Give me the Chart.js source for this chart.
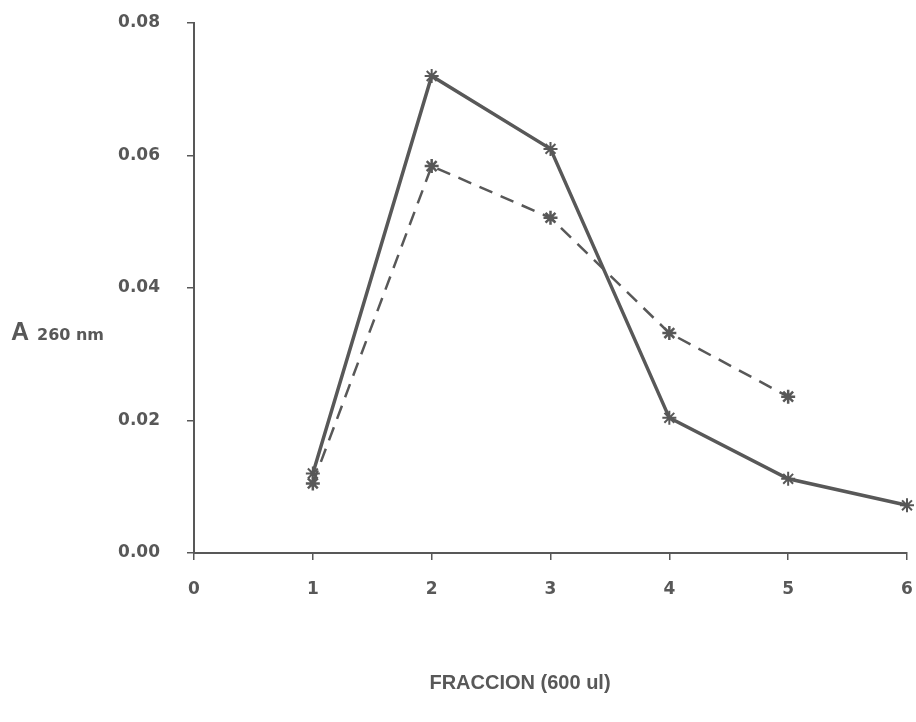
<!DOCTYPE html>
<html>
<head>
<meta charset="utf-8">
<script src="https://cdn.jsdelivr.net/npm/chart.js@4.4.0/dist/chart.umd.min.js"></script>
<style>
  html, body { margin: 0; padding: 0; background: #ffffff; }
  #wrap { width: 916px; height: 722px; position: relative; }
</style>
</head>
<body>
<div id="wrap"><canvas id="c" width="916" height="722"></canvas></div>
<script>
// ---- data ----
const fractions = [1, 2, 3, 4, 5, 6];
const solidSeries = [0.012, 0.072, 0.061, 0.0204, 0.0112, 0.0072];
const dashedSeries = [0.0105, 0.0584, 0.0506, 0.0332, 0.0236];
const xTickLabels = ['0', '1', '2', '3', '4', '5', '6'];
const yTickLabels = ['0.00', '0.02', '0.04', '0.06', '0.08'];
const xTitle = 'FRACCION (600 ul)';
const yTitleMain = 'A';
const yTitleSub = '260 nm';

const ink = '#585858';

const toPoints = (xs, ys) => ys.map((y, i) => ({ x: xs[i], y: y }));

const axisTitles = {
  id: 'axisTitles',
  afterDraw(chart) {
    const ctx = chart.ctx;
    ctx.save();
    ctx.fillStyle = ink;
    ctx.textBaseline = 'alphabetic';
    // y title (horizontal)
    ctx.textAlign = 'left';
    ctx.font = 'bold 25px "Liberation Sans", Arial, sans-serif';
    ctx.fillText(yTitleMain, 11, 340);
    ctx.font = 'bold 16px "DejaVu Sans", sans-serif';
    ctx.fillText(yTitleSub, 37, 340);
    // x title
    ctx.textAlign = 'center';
    ctx.font = 'bold 20px "Liberation Sans", Arial, sans-serif';
    ctx.fillText(xTitle, 520, 689);
    ctx.restore();
  }
};

function zeroPad(scale) {
  scale.paddingTop = 0;
  scale.paddingBottom = 0;
  scale.paddingLeft = 0;
  scale.paddingRight = 0;
}

new Chart(document.getElementById('c'), {
  type: 'line',
  data: {
    datasets: [
      {
        data: toPoints(fractions, solidSeries),
        borderColor: ink,
        borderWidth: 3.5,
        pointStyle: 'star',
        pointRadius: 7,
        pointBorderWidth: 2,
        pointBorderColor: ink,
        pointBackgroundColor: ink,
        tension: 0,
        fill: false,
        clip: false
      },
      {
        data: toPoints(fractions, dashedSeries),
        borderColor: ink,
        borderWidth: 2.5,
        borderDash: [14, 9],
        pointStyle: 'star',
        pointRadius: 7,
        pointBorderWidth: 2.5,
        pointBorderColor: ink,
        pointBackgroundColor: ink,
        tension: 0,
        fill: false,
        clip: false
      }
    ]
  },
  options: {
    responsive: false,
    animation: false,
    devicePixelRatio: 1,
    layout: { autoPadding: false, padding: { left: 0, right: 9, top: 23, bottom: 0 } },
    plugins: { legend: { display: false }, tooltip: { enabled: false }, title: { display: false } },
    scales: {
      x: {
        type: 'linear',
        min: 0,
        max: 6,
        afterFit(scale) { scale.height = 169; zeroPad(scale); },
        border: { display: true, color: ink, width: 2 },
        grid: { display: true, drawOnChartArea: false, drawTicks: true, tickLength: 7, color: ink, lineWidth: 1.5 },
        ticks: {
          stepSize: 1,
          padding: 19,
          color: ink,
          font: { family: '"DejaVu Sans", sans-serif', weight: 'bold', size: 17 },
          callback: (v, i) => xTickLabels[i]
        }
      },
      y: {
        type: 'linear',
        min: 0,
        max: 0.08,
        afterFit(scale) { scale.width = 194; zeroPad(scale); },
        border: { display: true, color: ink, width: 2 },
        grid: { display: true, drawOnChartArea: false, drawTicks: true, tickLength: 7, color: ink, lineWidth: 1.5 },
        ticks: {
          stepSize: 0.02,
          padding: 27,
          color: ink,
          font: { family: '"DejaVu Sans", sans-serif', weight: 'bold', size: 17 },
          callback: (v, i) => yTickLabels[i]
        }
      }
    }
  },
  plugins: [axisTitles]
});
</script>
</body>
</html>
